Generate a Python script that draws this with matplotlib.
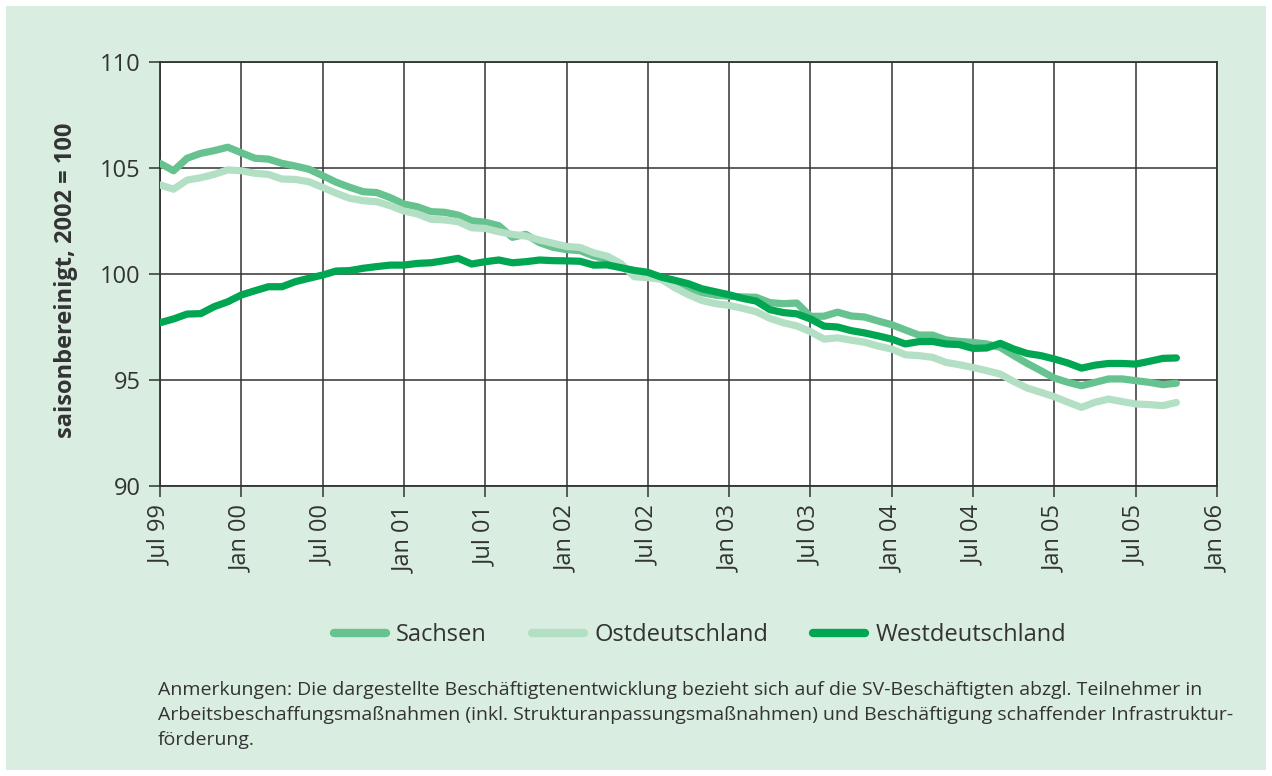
import matplotlib
matplotlib.use("Agg")
import matplotlib.pyplot as plt
import numpy as np
from matplotlib.patches import Rectangle
from matplotlib.lines import Line2D

# ---- data (monthly, Jul 1999 .. Oct 2005), index 2002 = 100 ----
sachsen = [105.22, 104.87, 105.46, 105.69, 105.82, 105.98, 105.72, 105.46, 105.42, 105.22,
           105.09, 104.94, 104.64, 104.33, 104.09, 103.88, 103.84, 103.60, 103.30, 103.17,
           102.94, 102.91, 102.78, 102.51, 102.44, 102.28, 101.73, 101.87, 101.48, 101.26,
           101.15, 101.10, 100.85, 100.70, 100.38, 99.98, 99.92, 99.80, 99.55, 99.30,
           99.12, 99.00, 98.95, 98.92, 98.90, 98.65, 98.60, 98.63, 98.00, 98.01,
           98.20, 98.02, 97.97, 97.78, 97.61, 97.36, 97.12, 97.12, 96.89, 96.82,
           96.77, 96.70, 96.54, 96.15, 95.78, 95.44, 95.09, 94.89, 94.73, 94.89,
           95.05, 95.05, 94.97, 94.89, 94.78, 94.85]
ost = [104.20, 104.00, 104.43, 104.54, 104.70, 104.91, 104.87, 104.75, 104.70, 104.48,
       104.46, 104.35, 104.09, 103.81, 103.57, 103.46, 103.41, 103.22, 102.97, 102.83,
       102.58, 102.55, 102.47, 102.18, 102.15, 101.99, 101.87, 101.79, 101.60, 101.45,
       101.30, 101.25, 101.00, 100.84, 100.50, 99.87, 99.83, 99.75, 99.35, 99.02,
       98.75, 98.60, 98.52, 98.38, 98.22, 97.91, 97.70, 97.55, 97.28, 96.93,
       96.99, 96.88, 96.78, 96.60, 96.46, 96.19, 96.15, 96.07, 95.83, 95.72,
       95.59, 95.44, 95.28, 94.93, 94.62, 94.42, 94.21, 93.95, 93.71, 93.95,
       94.10, 93.98, 93.87, 93.84, 93.79, 93.94]
west = [97.70, 97.88, 98.11, 98.13, 98.46, 98.69, 99.01, 99.21, 99.40, 99.40,
        99.64, 99.80, 99.95, 100.14, 100.16, 100.27, 100.35, 100.42, 100.42, 100.50,
        100.53, 100.63, 100.74, 100.47, 100.58, 100.66, 100.53, 100.58, 100.66, 100.63,
        100.62, 100.60, 100.42, 100.43, 100.30, 100.17, 100.08, 99.85, 99.70, 99.54,
        99.30, 99.16, 99.02, 98.85, 98.72, 98.32, 98.18, 98.12, 97.88, 97.54,
        97.50, 97.33, 97.22, 97.08, 96.93, 96.70, 96.81, 96.82, 96.70, 96.67,
        96.49, 96.51, 96.73, 96.46, 96.25, 96.15, 95.99, 95.80, 95.56, 95.70,
        95.78, 95.78, 95.75, 95.88, 96.02, 96.04]

series_names = ["Sachsen", "Ostdeutschland", "Westdeutschland"]
tick_labels = ["Jul 99", "Jan 00", "Jul 00", "Jan 01", "Jul 01", "Jan 02", "Jul 02",
               "Jan 03", "Jul 03", "Jan 04", "Jul 04", "Jan 05", "Jul 05", "Jan 06"]
y_ticks = [90, 95, 100, 105, 110]
ylabel = "saisonbereinigt, 2002 = 100"
note_lines = [
    "Anmerkungen: Die dargestellte Beschäftigtenentwicklung bezieht sich auf die SV-Beschäftigten abzgl. Teilnehmer in",
    "Arbeitsbeschaffungsmaßnahmen (inkl. Strukturanpassungsmaßnahmen) und Beschäftigung schaffender Infrastruktur-",
    "förderung.",
]

colors = ["#66c28f", "#b3dfc4", "#00a651"]
bg = "#d9ede0"
txt = "#333333"
FONT = "Open Sans"

W, H = 1272, 776
fig = plt.figure(figsize=(W / 100, H / 100), dpi=100, facecolor="white")
fig.patches.append(Rectangle((6 / W, 6 / H), (W - 12) / W, (H - 12) / H,
                             transform=fig.transFigure, facecolor=bg, edgecolor="none", zorder=-10))

ax = fig.add_axes([160 / W, 1 - 486 / H, (1217 - 160) / W, (486 - 62) / H])
ax.set_facecolor("white")

x = np.arange(len(sachsen))
for vals, c, name in zip([sachsen, ost, west], colors, series_names):
    ax.plot(x, vals, color=c, lw=5.2, solid_capstyle="round", solid_joinstyle="round", label=name, zorder=3)

ax.set_xlim(0, 78)
ax.set_ylim(90, 110)
ax.set_xticks(np.arange(0, 79, 6))
ax.set_xticklabels(tick_labels, rotation=90, fontsize=17, color=txt, family=FONT)
ax.set_yticks(y_ticks)
ax.set_yticklabels([str(v) for v in y_ticks], fontsize=17, color=txt, family=FONT)
ax.grid(True, color="#333333", lw=1.1, zorder=1)
ax.tick_params(axis="both", direction="out", length=8, width=1.1, color="#333333", pad=6)
for s in ax.spines.values():
    s.set_color("#333333")
    s.set_linewidth(1.3)

fig.text(66 / W, 1 - 280 / H, ylabel, rotation=90, ha="center", va="center",
         fontsize=17, fontweight="bold", color=txt, family=FONT)

handles = [Line2D([0], [0], color=c, lw=6, solid_capstyle="round") for c in colors]
fig.legend(handles, series_names, loc="center", bbox_to_anchor=(700 / W, 1 - 635 / H), ncol=3,
           frameon=False, prop={"family": FONT, "size": 17}, handlelength=2.2,
           columnspacing=1.9, handletextpad=0.45, labelcolor=txt)

for i, line in enumerate(note_lines):
    fig.text(158 / W, 1 - (690 + 25 * i) / H, line, ha="left", va="center",
             fontsize=14, color=txt, family=FONT)

fig.savefig("out.png", dpi=100, facecolor="white")
